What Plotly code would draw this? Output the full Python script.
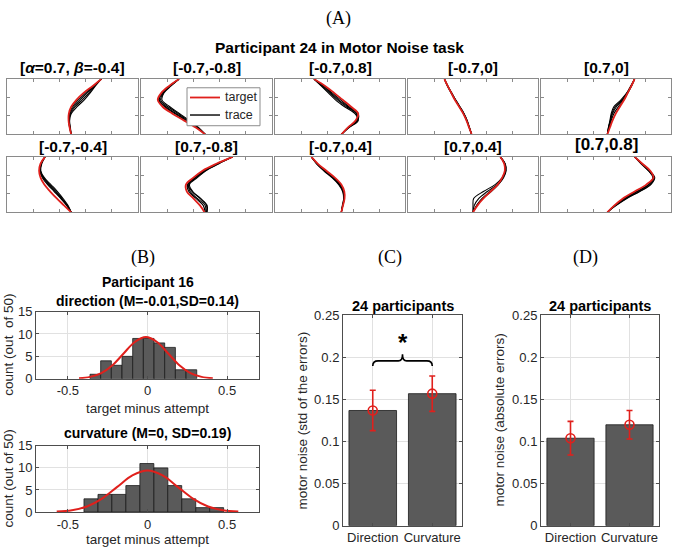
import plotly.graph_objects as go

W, H = 673, 558
SANS = "Liberation Sans"
SERIF = "Liberation Serif"
RED = "#e0201c"
BAR = "#5a5a5a"
GRID = "#e1e1e1"

# ---------------- Panel A data (trajectories) ----------------
panel_titles = ["[<i>α</i>=0.7, <i>β</i>=-0.4]", "[-0.7,-0.8]", "[-0.7,0.8]", "[-0.7,0]", "[0.7,0]",
                "[-0.7,-0.4]", "[0.7,-0.8]", "[-0.7,0.4]", "[0.7,0.4]", "[0.7,0.8]"]
depth_levels = [0, 0.125, 0.25, 0.375, 0.5, 0.625, 0.75, 0.875, 1.0]

target_x = [
    [0.72, 0.655, 0.585, 0.53, 0.49, 0.472, 0.47, 0.478, 0.49],
    [0.29, 0.215, 0.155, 0.128, 0.165, 0.24, 0.33, 0.418, 0.49],
    [0.30, 0.385, 0.455, 0.52, 0.585, 0.64, 0.62, 0.56, 0.51],
    [0.28, 0.305, 0.333, 0.36, 0.393, 0.425, 0.45, 0.47, 0.49],
    [0.72, 0.695, 0.667, 0.64, 0.607, 0.575, 0.55, 0.53, 0.51],
    [0.29, 0.255, 0.245, 0.256, 0.285, 0.33, 0.38, 0.435, 0.49],
    [0.70, 0.575, 0.47, 0.40, 0.343, 0.35, 0.40, 0.45, 0.485],
    [0.28, 0.33, 0.395, 0.46, 0.51, 0.533, 0.535, 0.523, 0.51],
    [0.71, 0.74, 0.745, 0.725, 0.69, 0.635, 0.58, 0.535, 0.50],
    [0.72, 0.78, 0.84, 0.865, 0.81, 0.72, 0.63, 0.565, 0.51],
]

trace_x = [
    [[0.72, 0.665, 0.61, 0.56, 0.51, 0.48, 0.472, 0.48, 0.49],
     [0.72, 0.67, 0.625, 0.575, 0.52, 0.485, 0.475, 0.482, 0.49],
     [0.72, 0.66, 0.60, 0.545, 0.50, 0.476, 0.47, 0.478, 0.49],
     [0.72, 0.675, 0.635, 0.59, 0.535, 0.49, 0.478, 0.484, 0.49]],
    [[0.29, 0.22, 0.165, 0.14, 0.19, 0.27, 0.35, 0.43, 0.49],
     [0.29, 0.225, 0.17, 0.15, 0.205, 0.285, 0.36, 0.435, 0.49],
     [0.29, 0.23, 0.175, 0.16, 0.22, 0.295, 0.37, 0.44, 0.49],
     [0.29, 0.22, 0.16, 0.135, 0.18, 0.26, 0.345, 0.425, 0.49]],
    [[0.30, 0.37, 0.43, 0.49, 0.56, 0.63, 0.625, 0.56, 0.51],
     [0.30, 0.36, 0.42, 0.48, 0.55, 0.625, 0.63, 0.565, 0.51],
     [0.30, 0.375, 0.44, 0.505, 0.57, 0.64, 0.635, 0.565, 0.51],
     [0.30, 0.355, 0.41, 0.465, 0.535, 0.615, 0.64, 0.57, 0.51]],
    [[0.28, 0.307, 0.336, 0.365, 0.398, 0.43, 0.455, 0.472, 0.49],
     [0.28, 0.303, 0.331, 0.362, 0.396, 0.428, 0.452, 0.471, 0.49],
     [0.28, 0.306, 0.335, 0.367, 0.40, 0.432, 0.456, 0.473, 0.49],
     [0.28, 0.304, 0.334, 0.363, 0.395, 0.427, 0.451, 0.47, 0.49]],
    [[0.72, 0.695, 0.665, 0.63, 0.58, 0.55, 0.535, 0.52, 0.51],
     [0.72, 0.69, 0.66, 0.615, 0.56, 0.54, 0.53, 0.518, 0.51],
     [0.72, 0.697, 0.668, 0.638, 0.595, 0.56, 0.54, 0.525, 0.51],
     [0.72, 0.693, 0.662, 0.625, 0.57, 0.545, 0.533, 0.52, 0.51]],
    [[0.29, 0.258, 0.25, 0.27, 0.31, 0.36, 0.41, 0.455, 0.49],
     [0.29, 0.262, 0.255, 0.28, 0.325, 0.375, 0.42, 0.46, 0.49],
     [0.29, 0.26, 0.252, 0.275, 0.318, 0.368, 0.415, 0.458, 0.49],
     [0.29, 0.265, 0.258, 0.285, 0.335, 0.385, 0.428, 0.465, 0.49]],
    [[0.70, 0.585, 0.485, 0.415, 0.36, 0.39, 0.45, 0.50, 0.50],
     [0.70, 0.59, 0.49, 0.42, 0.365, 0.375, 0.43, 0.49, 0.495],
     [0.70, 0.58, 0.48, 0.41, 0.355, 0.365, 0.42, 0.475, 0.49],
     [0.70, 0.595, 0.495, 0.43, 0.37, 0.395, 0.455, 0.505, 0.505]],
    [[0.28, 0.325, 0.385, 0.45, 0.50, 0.527, 0.532, 0.522, 0.51],
     [0.28, 0.322, 0.38, 0.443, 0.495, 0.525, 0.53, 0.52, 0.51],
     [0.28, 0.327, 0.388, 0.452, 0.503, 0.53, 0.533, 0.522, 0.51],
     [0.28, 0.32, 0.375, 0.438, 0.49, 0.52, 0.528, 0.518, 0.51]],
    [[0.71, 0.745, 0.75, 0.725, 0.67, 0.58, 0.505, 0.50, 0.50],
     [0.71, 0.745, 0.752, 0.73, 0.685, 0.61, 0.545, 0.51, 0.50],
     [0.71, 0.742, 0.748, 0.728, 0.692, 0.63, 0.57, 0.528, 0.50],
     [0.71, 0.748, 0.755, 0.735, 0.695, 0.64, 0.575, 0.53, 0.50]],
    [[0.72, 0.775, 0.83, 0.865, 0.83, 0.74, 0.645, 0.57, 0.51],
     [0.72, 0.77, 0.825, 0.87, 0.84, 0.755, 0.655, 0.575, 0.51],
     [0.72, 0.78, 0.835, 0.875, 0.845, 0.76, 0.66, 0.58, 0.51],
     [0.72, 0.775, 0.828, 0.86, 0.825, 0.735, 0.64, 0.568, 0.51]],
]
legend_labels = ["target", "trace"]

# ---------------- Panel B data (histograms) ----------------
dir_bin_centers = [-0.3275, -0.2605, -0.1935, -0.1265, -0.0595, 0.0075, 0.0745, 0.1415, 0.2085, 0.2755]
dir_bin_width = 0.067
dir_counts = [1, 4, 3, 5, 9, 9, 8, 7, 2, 2]
dir_fit_x = [-0.43, -0.36, -0.29, -0.22, -0.15, -0.08, -0.01, 0.06, 0.13, 0.20, 0.27, 0.34, 0.41]
dir_fit_y = [0.10, 0.41, 1.26, 3.02, 5.64, 8.21, 9.30, 8.21, 5.64, 3.02, 1.26, 0.41, 0.10]

cur_bin_centers = [-0.355, -0.267, -0.180, -0.092, -0.004, 0.084, 0.171, 0.259, 0.347, 0.434]
cur_bin_width = 0.0876
cur_counts = [3, 4, 4, 6, 11, 10, 6, 3, 1, 1]
cur_fit_x = [-0.57, -0.475, -0.38, -0.285, -0.19, -0.095, 0.0, 0.095, 0.19, 0.285, 0.38, 0.475, 0.57]
cur_fit_y = [0.10, 0.41, 1.27, 3.05, 5.70, 8.30, 9.40, 8.30, 5.70, 3.05, 1.27, 0.41, 0.10]

# ---------------- Panels C, D data ----------------
conditions = ["Direction", "Curvature"]
cond_pos = [1, 2]
std_means = [0.137, 0.157]
std_err = [0.024, 0.021]
abs_means = [0.104, 0.120]
abs_err = [0.020, 0.017]

# ---------------- layout helpers ----------------
def xdom(a, b):
    return [a / W, b / W]

def ydom(top, bottom):
    return [1 - bottom / H, 1 - top / H]

def px(x):
    return x / W

def py(y):
    return 1 - y / H

cols_px = [(7, 138), (141, 272), (275, 405), (408, 538), (541, 671)]
rows_px = [(74, 131), (154, 211)]

fig = go.Figure()
layout = dict(
    width=W, height=H, autosize=False,
    margin=dict(l=0, r=0, t=0, b=0),
    paper_bgcolor="white", plot_bgcolor="white",
    font=dict(family=SANS, color="#262626", size=13),
    showlegend=False,
)
annotations = []
shapes = []

def text(t, x, y, size, family=SANS, color="black", angle=0, xanchor="center", ref=("paper", "paper")):
    annotations.append(dict(text=t, x=x, y=y, xref=ref[0], yref=ref[1], showarrow=False,
                            xanchor=xanchor, yanchor="middle", textangle=angle,
                            font=dict(size=size, family=family, color=color)))

def ax_name(n, axis):
    return axis if n == 1 else f"{axis}{n}"

# Panel A
for k in range(10):
    n = k + 1
    r, c = divmod(k, 5)
    xa, ya = ax_name(n, "x"), ax_name(n, "y")
    for tx in trace_x[k]:
        fig.add_trace(go.Scatter(
            x=tx, y=depth_levels, xaxis=xa, yaxis=ya, mode="lines",
            line=dict(color="black", width=1.1, shape="spline"), hoverinfo="skip"))
    fig.add_trace(go.Scatter(
        x=target_x[k], y=depth_levels, xaxis=xa, yaxis=ya, mode="lines",
        line=dict(color=RED, width=1.8, shape="spline"), hoverinfo="skip"))
    common = dict(showgrid=False, zeroline=False, showline=True, mirror="ticks",
                  linecolor="#8a8a8a", linewidth=1, ticks="inside", ticklen=3,
                  tickcolor="#8a8a8a", showticklabels=False)
    layout[ax_name(n, "xaxis")] = dict(domain=xdom(*cols_px[c]), range=[0, 1],
                                       tickvals=[0.2, 0.4, 0.6, 0.8], anchor=ya, **common)
    layout[ax_name(n, "yaxis")] = dict(domain=ydom(*rows_px[r]), range=[1, 0],
                                       tickvals=[1 / 3, 2 / 3], anchor=xa, **common)
    cx = (cols_px[c][0] + cols_px[c][1]) / 2
    ty = 62 if r == 0 else 143
    size = 15.5
    if k == 9:
        ty, size = 141, 17
    text(f"<b>{panel_titles[k]}</b>", px(cx), py(ty), size)

text("(A)", px(338), py(12), 18, family=SERIF)
text("<b>Participant 24 in Motor Noise task</b>", px(339), py(42), 15.5)

# legend drawn inside panel 2
shapes.append(dict(type="rect", xref="paper", yref="paper", x0=px(187), x1=px(260),
                   y0=py(122), y1=py(83), line=dict(color="#8c8c8c", width=1),
                   fillcolor="white", layer="above"))
for lab, col, ly in zip(legend_labels, [RED, "black"], [93, 111]):
    shapes.append(dict(type="line", xref="paper", yref="paper", x0=px(190), x1=px(220),
                       y0=py(ly), y1=py(ly), line=dict(color=col, width=1.8 if col == RED else 1.4),
                       layer="above"))
    text(lab, px(223), py(ly), 12.5, color="#262626", xanchor="left")

# Panel B
def std_axes(n, xd, yd, xr, yr, xtv, xtt, ytv, ytt):
    xa, ya = ax_name(n, "x"), ax_name(n, "y")
    base = dict(showgrid=True, gridcolor=GRID, gridwidth=1, zeroline=False, showline=True,
                mirror="ticks", linecolor="#4d4d4d", linewidth=1, ticks="inside", ticklen=3,
                tickcolor="#4d4d4d", tickfont=dict(size=13, family=SANS, color="#262626"))
    layout[ax_name(n, "xaxis")] = dict(domain=xd, range=xr, tickvals=xtv, ticktext=xtt,
                                       anchor=ya, **base)
    layout[ax_name(n, "yaxis")] = dict(domain=yd, range=yr, tickvals=ytv, ticktext=ytt,
                                       anchor=xa, **base)
    return xa, ya

hist_specs = [
    (11, (313, 382), dir_bin_centers, dir_bin_width, dir_counts, dir_fit_x, dir_fit_y,
     ["<b>Participant 16</b>", "<b>direction (M=-0.01,SD=0.14)</b>"], [283, 302],
     "count (out&nbsp; of 50)", 413),
    (12, (451, 519), cur_bin_centers, cur_bin_width, cur_counts, cur_fit_x, cur_fit_y,
     ["<b>curvature (M=0, SD=0.19)</b>"], [438], "count (out of 50)", 547),
]
for n, (top, bot), centers, bw, counts, fx, fy, titles, title_ys, ylab, xlab_y in hist_specs:
    xa, ya = std_axes(n, xdom(36, 259), ydom(top, bot), [-0.7, 0.7], [0, 15],
                      [-0.5, 0, 0.5], ["-0.5", "0", "0.5"], [0, 5, 10, 15], ["0", "5", "10", "15"])
    fig.add_trace(go.Bar(x=centers, y=counts, width=bw, xaxis=xa, yaxis=ya,
                         marker=dict(color=BAR, line=dict(color="#1a1a1a", width=0.8)),
                         hoverinfo="skip"))
    fig.add_trace(go.Scatter(x=fx, y=fy, xaxis=xa, yaxis=ya, mode="lines",
                             line=dict(color=RED, width=2, shape="spline"), hoverinfo="skip"))
    for t, ty in zip(titles, title_ys):
        text(t, px(147.5), py(ty), 14)
    text(ylab, px(8.5), py((top + bot) / 2), 13.5, color="#262626", angle=-90)
    text("target minus attempt", px(147.5), py(xlab_y), 13.5, color="#262626")

text("(B)", px(143), py(257), 18, family=SERIF)

# Panels C and D
bar_specs = [
    (13, (343, 462), std_means, std_err, "motor noise (std of the errors)", 303, "(C)", 390),
    (14, (541, 659), abs_means, abs_err, "motor noise (absolute errors)", 500, "(D)", 585),
]
for n, (l, rgt), means, errs, ylab, ylab_x, letter, letter_x in bar_specs:
    xa, ya = std_axes(n, xdom(l, rgt), ydom(317, 533), [0.5, 2.5], [0, 0.25],
                      cond_pos, conditions, [0, 0.05, 0.1, 0.15, 0.2, 0.25],
                      ["0", "0.05", "0.1", "0.15", "0.2", "0.25"])
    fig.add_trace(go.Bar(x=cond_pos, y=means, width=0.8, xaxis=xa, yaxis=ya,
                         marker=dict(color=BAR, line=dict(color="#1a1a1a", width=0.8)),
                         hoverinfo="skip"))
    fig.add_trace(go.Scatter(x=cond_pos, y=means, xaxis=xa, yaxis=ya, mode="markers",
                             marker=dict(symbol="circle-open", size=9, color=RED,
                                         line=dict(color=RED, width=1.6)),
                             error_y=dict(type="data", array=errs, visible=True,
                                          color=RED, thickness=1.6, width=3),
                             hoverinfo="skip"))
    text("<b>24 participants</b>", px((l + rgt) / 2), py(307), 14.5)
    text(ylab, px(ylab_x), py(425), 13.5, color="#262626", angle=-90)
    text(letter, px(letter_x), py(257), 18, family=SERIF)

# significance brace between the two bars of panel C
b_lo, b_hi = cond_pos
b_mid = (b_lo + b_hi) / 2
by = 0.196
brace = (f"M {b_lo},{by - 0.006} Q {b_lo},{by} {b_lo + 0.09},{by} "
         f"L {b_mid - 0.07},{by} Q {b_mid},{by} {b_mid},{by + 0.008} "
         f"Q {b_mid},{by} {b_mid + 0.07},{by} L {b_hi - 0.09},{by} "
         f"Q {b_hi},{by} {b_hi},{by - 0.006}")
shapes.append(dict(type="path", path=brace, xref="x13", yref="y13",
                   line=dict(color="black", width=1.6)))
text("<b>*</b>", b_mid, 0.218, 24, ref=("x13", "y13"))

layout["annotations"] = annotations
layout["shapes"] = shapes
fig.update_layout(**layout)
fig.write_html("out.html", config={"displayModeBar": False},
               post_script="document.body.style.margin='0';")
